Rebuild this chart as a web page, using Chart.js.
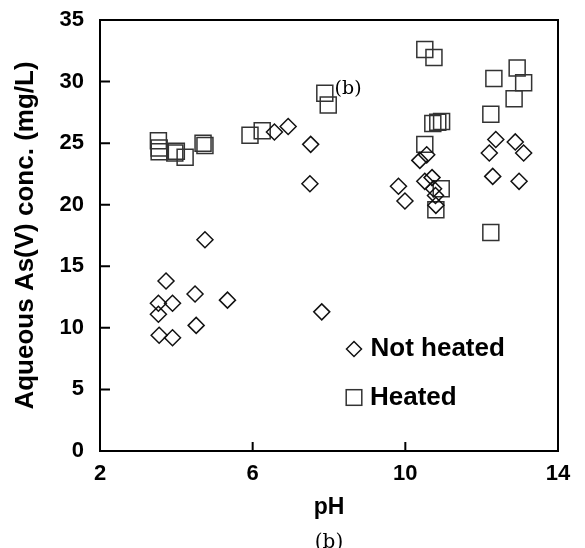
<!DOCTYPE html>
<html>
<head>
<meta charset="utf-8">
<script src="https://cdn.jsdelivr.net/npm/chart.js@4.4.0/dist/chart.umd.min.js"></script>
<style>
  html, body { margin: 0; padding: 0; background: #fff; }
  #wrap { width: 585px; height: 548px; }
</style>
</head>
<body>
<div id="wrap"><canvas id="c" width="585" height="548"></canvas></div>
<script>
// series
const seriesNames = ['Not heated', 'Heated'];

const notHeatedPH = [3.53, 3.53, 3.55, 3.73, 3.90, 3.90, 4.49, 4.52, 4.75, 5.34,
                     6.57, 6.93, 7.52, 7.50, 7.81, 9.82, 9.99, 10.38, 10.56, 10.51,
                     10.70, 10.74, 10.79, 10.80, 12.37, 12.20, 12.88, 13.10, 12.29, 12.98];
const notHeatedConc = [12.0, 11.1, 9.4, 13.8, 12.0, 9.2, 12.75, 10.2, 17.15, 12.25,
                       25.9, 26.35, 24.9, 21.7, 11.3, 21.5, 20.3, 23.6, 24.05, 21.9,
                       22.2, 21.3, 20.75, 19.95, 25.3, 24.2, 25.1, 24.2, 22.3, 21.9];

const heatedPH = [3.53, 3.55, 3.55, 3.96, 4.00, 4.23, 4.70, 4.75, 5.93, 6.25,
                  7.89, 7.98, 10.51, 10.75, 10.72, 10.85, 10.95, 10.51, 10.94, 10.80,
                  12.24, 12.24, 12.32, 12.85, 12.93, 13.10];
const heatedConc = [25.2, 24.6, 24.3, 24.2, 24.35, 23.85, 25.0, 24.8, 25.65, 26.0,
                    29.05, 28.1, 32.6, 31.95, 26.6, 26.7, 26.75, 24.9, 21.3, 19.6,
                    17.75, 27.35, 30.25, 28.6, 31.1, 29.9];

const pHTicks = [2, 6, 10, 14];
const concTicks = [0, 5, 10, 15, 20, 25, 30, 35];

const toPoints = (xs, ys) => xs.map((x, i) => ({ x: x, y: ys[i] }));

const SANS = '"Liberation Sans", Arial, sans-serif';
const SERIF = '"DejaVu Serif", serif';

// frame, inner ticks, legend and the "(b)" marks
const framePlugin = {
    id: 'frame',
    afterDraw(chart) {
        const { ctx, chartArea: a, scales: { x, y } } = chart;
        ctx.save();
        ctx.strokeStyle = '#000';
        ctx.lineWidth = 2;
        ctx.strokeRect(a.left, a.top, a.right - a.left, a.bottom - a.top);

        ctx.beginPath();
        x.ticks.forEach(t => {
            const px = x.getPixelForValue(t.value);
            ctx.moveTo(px, a.bottom);
            ctx.lineTo(px, a.bottom - 9);
        });
        y.ticks.forEach(t => {
            const py = y.getPixelForValue(t.value);
            ctx.moveTo(a.left, py);
            ctx.lineTo(a.left + 10, py);
        });
        ctx.stroke();

        // legend
        const lx = a.left + 254;
        const rows = [a.bottom - 102, a.bottom - 53.5];
        ctx.lineWidth = 1.5;
        ctx.fillStyle = '#000';
        ctx.font = 'bold 26px ' + SANS;
        ctx.textBaseline = 'alphabetic';
        ctx.textAlign = 'left';

        ctx.strokeStyle = chart.data.datasets[0].borderColor;
        ctx.beginPath();
        ctx.moveTo(lx - 7.5, rows[0]);
        ctx.lineTo(lx, rows[0] - 7.5);
        ctx.lineTo(lx + 7.5, rows[0]);
        ctx.lineTo(lx, rows[0] + 7.5);
        ctx.closePath();
        ctx.stroke();
        ctx.fillText(chart.data.datasets[0].label, lx + 16.5, rows[0] + 6.5);

        ctx.strokeStyle = chart.data.datasets[1].borderColor;
        ctx.strokeRect(lx - 7.8, rows[1] - 7.8, 15.6, 15.6);
        ctx.fillText(chart.data.datasets[1].label, lx + 16, rows[1] + 7.5);

        // stray "(b)" inside the plot and the caption below
        ctx.font = '19px ' + SERIF;
        ctx.textAlign = 'center';
        ctx.fillText('(b)', x.getPixelForValue(8.5), y.getPixelForValue(29.5) + 6);
        ctx.font = '20px ' + SERIF;
        ctx.fillText('(b)', (a.left + a.right) / 2, 547.5);
        ctx.restore();
    }
};

new Chart(document.getElementById('c'), {
    type: 'scatter',
    data: {
        datasets: [
            {
                label: seriesNames[0],
                data: toPoints(notHeatedPH, notHeatedConc),
                pointStyle: 'rectRot',
                pointRadius: 8,
                pointBorderWidth: 1.5,
                borderColor: '#111',
                backgroundColor: 'rgba(0,0,0,0)'
            },
            {
                label: seriesNames[1],
                data: toPoints(heatedPH, heatedConc),
                pointStyle: 'rect',
                pointRadius: 11.3,
                pointBorderWidth: 1.5,
                borderColor: '#333',
                backgroundColor: 'rgba(0,0,0,0)'
            }
        ]
    },
    options: {
        responsive: false,
        animation: false,
        events: [],
        layout: { padding: { top: 20, right: 27, left: 0, bottom: 0 } },
        plugins: {
            legend: { display: false },
            tooltip: { enabled: false }
        },
        scales: {
            x: {
                type: 'linear',
                min: 2,
                max: 14,
                afterBuildTicks: s => { s.ticks = pHTicks.map(v => ({ value: v })); },
                afterFit: s => { s.height = 97; s.paddingLeft = 0; s.paddingRight = 0; },
                grid: { display: false, drawTicks: false },
                border: { display: false },
                ticks: {
                    color: '#000',
                    padding: 10,
                    font: { family: SANS, size: 22, weight: 'bold' }
                },
                title: {
                    display: true,
                    text: 'pH',
                    color: '#000',
                    padding: { top: 0, bottom: 27 },
                    font: { family: SANS, size: 23, weight: 'bold' }
                }
            },
            y: {
                type: 'linear',
                min: 0,
                max: 35,
                afterBuildTicks: s => { s.ticks = concTicks.map(v => ({ value: v })); },
                afterFit: s => { s.width = 100; s.paddingTop = 0; s.paddingBottom = 0; },
                grid: { display: false, drawTicks: false },
                border: { display: false },
                ticks: {
                    color: '#000',
                    padding: 16,
                    font: { family: SANS, size: 22, weight: 'bold' }
                },
                title: {
                    display: true,
                    text: 'Aqueous As(V) conc. (mg/L)',
                    color: '#000',
                    padding: { top: 10, bottom: 0 },
                    font: { family: SANS, size: 26, weight: 'bold' }
                }
            }
        }
    },
    plugins: [framePlugin]
});
</script>
</body>
</html>
